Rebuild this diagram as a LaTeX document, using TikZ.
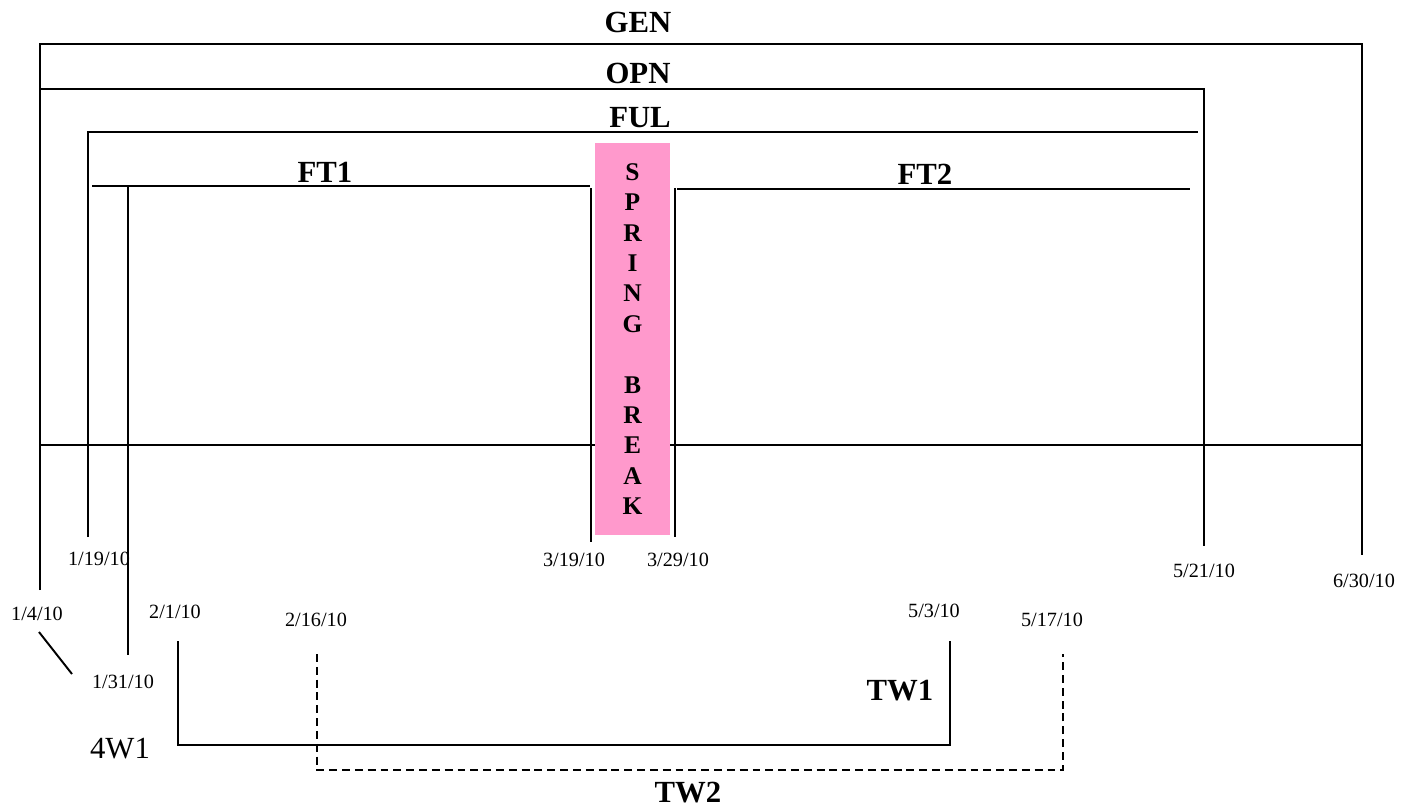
\documentclass[tikz,border=0pt]{standalone}
\usepackage{fontspec}
\setmainfont{Liberation Serif}
\usetikzlibrary{positioning}
\definecolor{breakpink}{RGB}{255,153,204}

\begin{document}
\begin{tikzpicture}[
    x=0.02cm, y=-0.02cm,
    span/.style={draw=black, line width=1.1pt},
    dspan/.style={span, dash pattern=on 4.5pt off 2.8pt},
    lbl/.style={font=\fontsize{17.5}{21}\selectfont\bfseries, inner sep=0pt, anchor=base},
    plainlbl/.style={font=\fontsize{17.5}{21}\selectfont, inner sep=0pt, anchor=base},
    datelbl/.style={font=\fontsize{11.5}{14}\selectfont, inner sep=0pt, anchor=base},
    breakbox/.style={rectangle, fill=breakpink, minimum width=1.5cm, minimum height=7.84cm, inner sep=0pt, align=center, font=\fontsize{14.5}{17.3}\selectfont\bfseries}
]
\useasboundingbox (0,0) rectangle (1411,808);

% Spans
\draw [span] (40,590) |- (1362,44) -- (1362,555);
\draw [span] (40,89) -- (1204,89) -- (1204,546);
\draw [span] (88,537) |- (1198,132);
\draw [span] (92,186) -- (590,186);
\draw [span] (591,188) -- (591,542);
\draw [span] (128,186) -- (128,655);
\draw [span] (675,188) -- (675,537);
\draw [span] (677,189) -- (1190,189);
\draw [span] (40,445) -- (1362,445);
\draw [span] (39,632) -- (72,674);
\draw [span] (178,641) |- (950,745) -- (950,641);
\draw [dspan] (317,654) |- (1063,770) -- (1063,654);

% Break
\node (brk) [breakbox] at (632.5,339) {S\\P\\R\\I\\N\\G\\[17.3pt]B\\R\\E\\A\\K};

% Labels
\node (gen) [lbl] at (638,32) {GEN};
\node (opn) [lbl] at (638,83) {OPN};
\node (ful) [lbl] at (640,127) {FUL};
\node (ft1) [lbl] at (325,182) {FT1};
\node (ft2) [lbl] at (925,184) {FT2};
\node (tw1) [lbl] at (900,700) {TW1};
\node (tw2) [lbl] at (688,802) {TW2};
\node (fw1) [plainlbl] at (120,758) {4W1};

% Dates
\node (d0119) [datelbl] at (99,565) {1/19/10};
\node (d0319) [datelbl] at (574,566) {3/19/10};
\node (d0329) [datelbl] at (678,566) {3/29/10};
\node (d0521) [datelbl] at (1204,577) {5/21/10};
\node (d0630) [datelbl] at (1364,587) {6/30/10};
\node (d0104) [datelbl] at (37,620) {1/4/10};
\node (d0201) [datelbl] at (175,618) {2/1/10};
\node (d0216) [datelbl] at (316,626) {2/16/10};
\node (d0503) [datelbl] at (934,617) {5/3/10};
\node (d0517) [datelbl] at (1052,626) {5/17/10};
\node (d0131) [datelbl] at (123,688) {1/31/10};

\end{tikzpicture}
\end{document}
